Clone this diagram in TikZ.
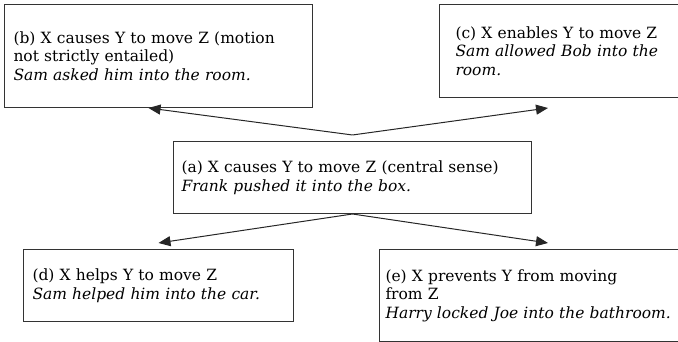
\documentclass[tikz,border=0pt]{standalone}
\usepackage{fontspec}
\setmainfont{DejaVu Serif}
\usepackage{tikz}
\usetikzlibrary{positioning, arrows.meta, calc}

\begin{document}
\begin{tikzpicture}[
  x=1pt, y=1pt,
  >={Triangle[length=12pt, width=10pt]},
  % --- Styles ---
  sensebox/.style={
    rectangle, draw=black!80, line width=1pt, fill=white,
    align=left, inner ysep=2pt, anchor=north west,
    font=\fontsize{15.5pt}{18.5pt}\selectfont},
  link/.style={->, line width=1pt, black!85},
]
\clip (0,0) rectangle (678,342);
% === NODES ===
% central sense
\node[sensebox, text width=342pt, inner xsep=8pt, minimum height=72pt] (a) at (173,201) {%
  (a) X causes Y to move Z (central sense)\\
  \textit{Frank pushed it into the box.}};
% extensions above
\node[sensebox, text width=290pt, inner xsep=9pt, minimum height=103pt] (b) at (4,338) {%
  (b) X causes Y to move Z (motion\\
  not strictly entailed)\\
  \textit{Sam asked him into the room.}};
\node[sensebox, text width=240pt, inner xsep=16pt, minimum height=93pt] (c) at (439,338) {%
  (c) X enables Y to move Z\\
  \textit{Sam allowed Bob into the}\\
  \textit{room.}};
% extensions below
\node[sensebox, text width=252pt, inner xsep=9pt, minimum height=72pt] (d) at (23,93) {%
  (d) X helps Y to move Z\\
  \textit{Sam helped him into the car.}};
\node[sensebox, text width=360pt, inner xsep=6pt, minimum height=92pt] (e) at (379,93) {%
  (e) X prevents Y from moving\\
  from Z\\
  \textit{Harry locked Joe into the bathroom.}};
% === ARROWS ===
\coordinate (fork) at ([yshift=6pt]a.north);
\coordinate (bin) at ([xshift=-10pt]b.south);
\coordinate (cin) at ([xshift=109pt, yshift=-10pt]c.south west);
\coordinate (din) at ([yshift=6pt]d.north);
\coordinate (ein) at ([xshift=169pt, yshift=6pt]e.north west);
\draw[link] (fork) -- (bin);
\draw[link] (fork) -- (cin);
\draw[link] (a.south) -- (din);
\draw[link] (a.south) -- (ein);
\end{tikzpicture}
\end{document}
